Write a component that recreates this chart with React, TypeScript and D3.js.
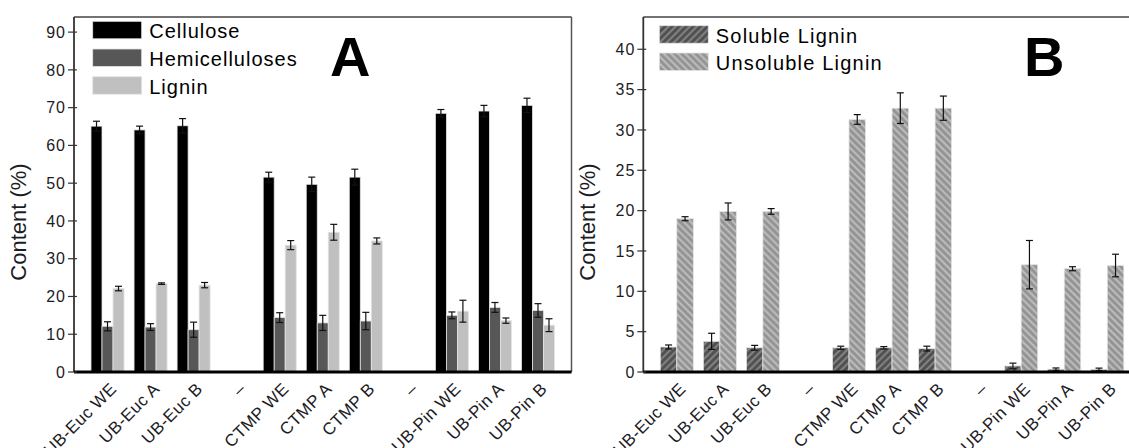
import React from "react";
import * as d3 from "d3";

// categories on the x axis ("–" are empty spacer slots)
const categories = [
  "UB-Euc WE", "UB-Euc A", "UB-Euc B", "–",
  "CTMP WE", "CTMP A", "CTMP B", "–",
  "UB-Pin WE", "UB-Pin A", "UB-Pin B",
];

// panel A: composition (%), null = no bar
const cellulose = [65.1, 64.1, 65.2, null, 51.6, 49.7, 51.6, null, 68.5, 69.1, 70.6];
const celluloseErr = [1.3, 1.0, 1.9, null, 1.3, 1.9, 2.1, null, 1.0, 1.5, 1.9];
const hemicelluloses = [12.1, 11.9, 11.2, null, 14.4, 13.0, 13.5, null, 15.0, 17.1, 16.3];
const hemicellulosesErr = [1.2, 0.9, 2.0, null, 1.3, 2.0, 2.3, null, 0.9, 1.3, 1.8];
const lignin = [22.1, 23.4, 23.0, null, 33.6, 37.0, 34.7, null, 16.1, 13.6, 12.4];
const ligninErr = [0.6, 0.2, 0.7, null, 1.2, 2.1, 0.8, null, 2.9, 0.7, 1.7];

// panel B: lignin fractions (%)
const solubleLignin = [3.1, 3.8, 3.0, null, 3.0, 3.0, 2.9, null, 0.75, 0.35, 0.33];
const solubleLigninErr = [0.25, 1.0, 0.3, null, 0.2, 0.15, 0.3, null, 0.35, 0.15, 0.15];
const unsolubleLignin = [19.0, 19.9, 19.9, null, 31.3, 32.7, 32.7, null, 13.3, 12.8, 13.2];
const unsolubleLigninErr = [0.25, 1.05, 0.35, null, 0.6, 1.9, 1.5, null, 3.0, 0.25, 1.4];

const ticksA = [0, 10, 20, 30, 40, 50, 60, 70, 80, 90];
const ticksB = [0, 5, 10, 15, 20, 25, 30, 35, 40];

const W = 1129;
const H = 448;
const top = 17;
const bottom = 372;
const font = "Arial, 'Liberation Sans', sans-serif";
const textColor = "#1c1c24";

type Series = { name: string; values: (number | null)[]; errs: (number | null)[]; fill: string };

const Panel = ({ left, right, maxY, ticks, series, letter, letterX, legendX, legendY, legendStep, legendText }: any) => {
  const x = d3
    .scaleBand<number>()
    .domain(categories.map((_, i) => i))
    .range([left, right])
    .paddingInner(0.233)
    .paddingOuter(0.395);
  const sub = d3
    .scaleBand<number>()
    .domain(series.map((_: Series, i: number) => i))
    .range([0, x.bandwidth()]);
  const y = d3.scaleLinear().domain([0, maxY]).range([bottom, top]);

  return (
    <g>
      {/* bars */}
      {series.map((s: Series, si: number) =>
        s.values.map((v, ci) =>
          v == null ? null : (
            <rect
              key={`b${si}-${ci}`}
              x={(x(ci) as number) + (sub(si) as number)}
              y={y(v)}
              width={sub.bandwidth()}
              height={bottom - y(v)}
              fill={s.fill}
              stroke="#e4e4e4"
              strokeWidth={0.8}
            />
          )
        )
      )}
      {/* error bars */}
      {series.map((s: Series, si: number) =>
        s.values.map((v, ci) => {
          const e = s.errs[ci];
          if (v == null || e == null) return null;
          const cx = (x(ci) as number) + (sub(si) as number) + sub.bandwidth() / 2;
          return (
            <g key={`e${si}-${ci}`} stroke="#111" strokeWidth={1.2}>
              <line x1={cx} x2={cx} y1={y(v - e)} y2={y(v + e)} />
              <line x1={cx - 3.5} x2={cx + 3.5} y1={y(v + e)} y2={y(v + e)} />
              <line x1={cx - 3.5} x2={cx + 3.5} y1={y(v - e)} y2={y(v - e)} />
            </g>
          );
        })
      )}
      {/* frame */}
      <line x1={left} x2={right} y1={top} y2={top} stroke="#444" strokeWidth={1.5} />
      <line x1={right} x2={right} y1={top} y2={bottom} stroke="#555" strokeWidth={1.5} />
      <line x1={left} x2={left} y1={top} y2={bottom} stroke="#333" strokeWidth={1.8} />
      <line x1={left} x2={right} y1={bottom} y2={bottom} stroke="#000" strokeWidth={3} />
      {/* y ticks */}
      {ticks.map((t: number) => (
        <g key={`t${t}`}>
          <line x1={left - 6} x2={left + 3} y1={y(t)} y2={y(t)} stroke="#333" strokeWidth={1.2} />
          <text
            x={left - 8}
            y={y(t)}
            dy="0.36em"
            textAnchor="end"
            fontSize={16}
            letterSpacing={1}
            fontFamily={font}
            fill={textColor}
          >
            {t}
          </text>
        </g>
      ))}
      {/* x labels */}
      {categories.map((c, i) => {
        const tx = (x(i) as number) + x.bandwidth() / 2 + 10;
        const ty = bottom + 18;
        return (
          <text
            key={`x${i}`}
            transform={`translate(${tx},${ty}) rotate(-45)`}
            textAnchor="end"
            fontSize={17}
            letterSpacing={0.4}
            fontFamily={font}
            fill={textColor}
          >
            {c}
          </text>
        );
      })}
      {/* y label */}
      <text
        transform={`translate(${left - 48},222) rotate(-90)`}
        textAnchor="middle"
        fontSize={22}
        fontFamily={font}
        fill={textColor}
      >
        Content (%)
      </text>
      {/* legend */}
      {series.map((s: Series, si: number) => (
        <g key={`l${si}`}>
          <rect x={legendX} y={legendY + si * legendStep} width={49} height={17.5} fill={s.fill} stroke="#e4e4e4" strokeWidth={0.8} />
          <text
            x={legendX + 56.5}
            y={legendY + si * legendStep + 17}
            fontSize={20}
            letterSpacing={legendText}
            fontFamily={font}
            fill="#000"
          >
            {s.name}
          </text>
        </g>
      ))}
      <text x={letterX} y={76} fontSize={56} fontWeight="bold" fontFamily={font} fill="#000">
        {letter}
      </text>
    </g>
  );
};

const App = () => {
  const seriesA: Series[] = [
    { name: "Cellulose", values: cellulose, errs: celluloseErr, fill: "#000" },
    { name: "Hemicelluloses", values: hemicelluloses, errs: hemicellulosesErr, fill: "#575757" },
    { name: "Lignin", values: lignin, errs: ligninErr, fill: "#c0c0c0" },
  ];
  const seriesB: Series[] = [
    { name: "Soluble Lignin", values: solubleLignin, errs: solubleLigninErr, fill: "url(#hatchSol)" },
    { name: "Unsoluble Lignin", values: unsolubleLignin, errs: unsolubleLigninErr, fill: "url(#hatchUns)" },
  ];
  return (
    <div style={{ position: "absolute", left: 0, top: 0 }}>
      <svg width={W} height={H} style={{ display: "block", background: "#fff" }}>
        <defs>
          <pattern id="hatchSol" width={5} height={5} patternUnits="userSpaceOnUse" patternTransform="rotate(45)">
            <rect width={5} height={5} fill="#4e4e4e" />
            <line x1={1.5} x2={1.5} y1={0} y2={5} stroke="#8c8c8c" strokeWidth={1.8} />
          </pattern>
          <pattern id="hatchUns" width={5} height={5} patternUnits="userSpaceOnUse" patternTransform="rotate(-45)">
            <rect width={5} height={5} fill="#929292" />
            <line x1={1.5} x2={1.5} y1={0} y2={5} stroke="#c4c4c4" strokeWidth={1.8} />
          </pattern>
        </defs>
        <Panel
          left={74}
          right={571.5}
          maxY={94}
          ticks={ticksA}
          series={seriesA}
          letter="A"
          letterX={330}
          legendX={92.7}
          legendY={21.3}
          legendStep={27.7}
          legendText={1}
        />
        <Panel
          left={643.3}
          right={1140.8}
          maxY={44}
          ticks={ticksB}
          series={seriesB}
          letter="B"
          letterX={1024}
          legendX={659.3}
          legendY={25.7}
          legendStep={27.3}
          legendText={1.2}
        />
      </svg>
    </div>
  );
};

export default App;
